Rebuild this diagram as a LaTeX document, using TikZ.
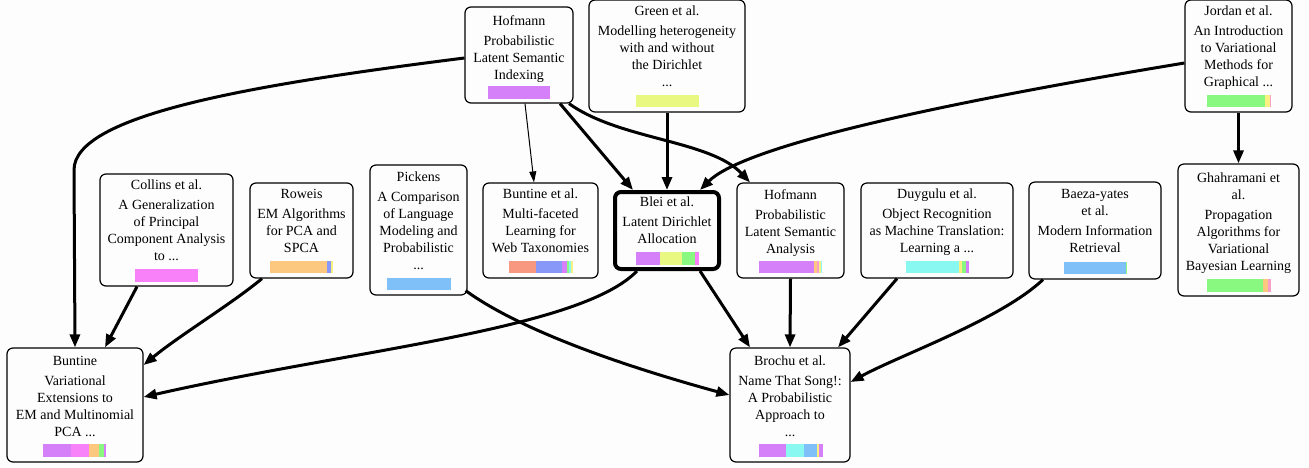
\documentclass[tikz,border=0pt]{standalone}
\usepackage{fontspec}
\setmainfont{Liberation Serif}
\usetikzlibrary{arrows.meta}
\definecolor{bg}{RGB}{252,253,252}
\definecolor{cviolet}{RGB}{213,128,248}
\definecolor{cpink}{RGB}{248,128,248}
\definecolor{cyg}{RGB}{232,248,128}
\definecolor{cgreen}{RGB}{136,248,128}
\definecolor{corange}{RGB}{252,200,128}
\definecolor{csalmon}{RGB}{248,152,128}
\definecolor{cperi}{RGB}{136,152,248}
\definecolor{cblue}{RGB}{128,192,248}
\definecolor{ccyan}{RGB}{136,248,240}
\definecolor{cyellow}{RGB}{248,240,128}
\definecolor{crose}{RGB}{248,160,200}
\newcommand{\pbox}[6][]{\node[paper,#1,minimum width={(#4-#2)*1pt},minimum height={(#5-#3)*1pt}] (#6) at ({(#2+#4)/2},{(#3+#5)/2}) {};}
\newcommand{\seg}[5]{\fill[#1] (#2,#3) rectangle (#4,#5);}
\begin{document}
\begin{tikzpicture}[x=1pt,y=-1pt,
  paper/.style={draw=black,fill=bg,rounded corners=6pt,line width=1.2pt,inner sep=0pt},
  txt/.style={anchor=north,align=center,inner sep=0pt,font=\fontsize{14}{17}\selectfont},
  link/.style={line width=3pt,-{Triangle[length=13pt,width=10pt]}},
  thinlink/.style={line width=1pt,-{Triangle[length=11pt,width=7pt]}}]
\useasboundingbox (0,0) rectangle (1309,467);
\fill[bg] (0,0) rectangle (1309,467);

% boxes
\pbox{465}{7}{573}{103}{hofI}
\pbox{589}{0}{745}{112}{green}
\pbox{1185}{0}{1292}{112}{jordan}
\pbox{1178}{164}{1299}{296}{ghah}
\pbox{100}{174}{233}{286}{collins}
\pbox{250}{183}{353}{278}{roweis}
\pbox{370}{165}{467}{295}{pickens}
\pbox{483}{183}{598}{278}{bunet}
\pbox[line width=4pt]{615}{192}{719}{269}{blei}
\pbox{737}{183}{844}{278}{plsa}
\pbox{861}{183}{1013}{278}{duygulu}
\pbox{1029}{182}{1161}{279}{baeza}
\pbox{7}{348}{143}{462}{bunvar}
\pbox{730}{348}{850}{462}{brochu}

% texts
\node[txt] at (519,15) {Hofmann\\[3pt]Probabilistic\\Latent Semantic\\Indexing};
\node[txt] at (667,6) {Green et al.\\[3pt]Modelling heterogeneity\\with and without\\the Dirichlet\\...};
\node[txt] at (1238.5,6) {Jordan et al.\\[3pt]An Introduction\\to Variational\\Methods for\\Graphical ...};
\node[txt] at (1238.5,173) {Ghahramani et\\al.\\[3pt]Propagation\\Algorithms for\\Variational\\Bayesian Learning};
\node[txt] at (166.5,180) {Collins et al.\\[3pt]A Generalization\\of Principal\\Component Analysis\\to ...};
\node[txt] at (301.5,189) {Roweis\\[3pt]EM Algorithms\\for PCA and\\SPCA};
\node[txt] at (418.5,172) {Pickens\\[3pt]A Comparison\\of Language\\Modeling and\\Probabilistic\\...};
\node[txt] at (540.5,189) {Buntine et al.\\[3pt]Multi-faceted\\Learning for\\Web Taxonomies};
\node[txt] at (667,197) {Blei et al.\\[3pt]Latent Dirichlet\\Allocation};
\node[txt] at (790.5,189) {Hofmann\\[3pt]Probabilistic\\Latent Semantic\\Analysis};
\node[txt] at (937,189) {Duygulu et al.\\[3pt]Object Recognition\\as Machine Translation:\\Learning a ...};
\node[txt] at (1095,189) {Baeza-yates\\et al.\\[3pt]Modern Information\\Retrieval};
\node[txt] at (75,356) {Buntine\\[3pt]Variational\\Extensions to\\EM and Multinomial\\PCA ...};
\node[txt] at (790,356) {Brochu et al.\\[3pt]Name That Song!:\\A Probabilistic\\Approach to\\...};

% bars
\seg{cviolet}{488}{86}{550}{99}
\seg{cyg}{636}{95}{699}{107}
\seg{cgreen}{1207}{95}{1265}{107}\seg{cyellow}{1265}{95}{1270}{107}\seg{crose}{1270}{95}{1271}{107}
\seg{cgreen}{1207}{279}{1263}{292}\seg{corange}{1263}{279}{1268}{292}\seg{crose}{1268}{279}{1271}{292}
\seg{cpink}{135}{269}{198}{282}
\seg{corange}{270}{261}{327}{273}\seg{cperi}{327}{261}{331}{273}\seg{cyellow}{331}{261}{333}{273}
\seg{cblue}{387}{278}{451}{290}
\seg{csalmon}{509}{261}{536}{273}\seg{cperi}{536}{261}{562}{273}\seg{cviolet}{562}{261}{567}{273}\seg{cgreen}{567}{261}{569}{273}\seg{ccyan}{569}{261}{571}{273}\seg{cyellow}{571}{261}{573}{273}
\seg{cviolet}{636}{252}{660}{265}\seg{cyg}{660}{252}{682}{265}\seg{cgreen}{682}{252}{695}{265}\seg{cpink}{695}{252}{699}{265}
\seg{cviolet}{759}{261}{814}{273}\seg{corange}{814}{261}{817}{273}\seg{crose}{817}{261}{819}{273}\seg{cyellow}{819}{261}{821}{273}\seg{ccyan}{821}{261}{822}{273}
\seg{ccyan}{906}{261}{959}{273}\seg{cyellow}{959}{261}{962}{273}\seg{cgreen}{962}{261}{966}{273}\seg{cviolet}{966}{261}{969}{273}
\seg{cblue}{1064}{262}{1126}{274}\seg{cgreen}{1126}{262}{1127}{274}
\seg{cviolet}{43}{444}{71}{457}\seg{cpink}{71}{444}{89}{457}\seg{corange}{89}{444}{99}{457}\seg{cgreen}{99}{444}{104}{457}\seg{cviolet}{104}{444}{106}{457}
\seg{cviolet}{759}{444}{786}{457}\seg{ccyan}{786}{444}{804}{457}\seg{cblue}{804}{444}{817}{457}\seg{cyellow}{817}{444}{819}{457}\seg{cviolet}{819}{444}{823}{457}

% connectors
\draw[link] ([yshift=-3pt]hofI.west) .. controls (250,85) and (74,115) .. (74,170) -- (bunvar.north);
\draw[thinlink] ([xshift=6pt]hofI.south) -- ([xshift=-6.5pt]bunet.north);
\draw[link] ([xshift=41pt]hofI.south) -- ([xshift=-34pt]blei.north);
\draw[link] ([xshift=50pt]hofI.south) .. controls (620,140) and (710,140) .. ([xshift=-40.5pt]plsa.north);
\draw[link] (green.south) -- (blei.north);
\draw[link] ([yshift=-7pt]jordan.west) .. controls (900,110) and (740,150) .. ([xshift=33pt]blei.north);
\draw[link] (jordan.south) -- (ghah.north);
\draw[link] ([xshift=-29.5pt]collins.south) -- ([xshift=30pt]bunvar.north);
\draw[link] ([xshift=-39.5pt]roweis.south) .. controls (230,305) and (180,335) .. ([yshift=40pt]bunvar.east);
\draw[link] ([xshift=-30pt]blei.south) .. controls (580,330) and (350,350) .. ([yshift=8pt]bunvar.east);
\draw[link] ([xshift=-2pt,yshift=5pt]pickens.south east) .. controls (520,330) and (620,365) .. ([yshift=10pt]brochu.west);
\draw[link] ([xshift=33pt]blei.south) -- ([xshift=-40pt]brochu.north);
\draw[link] (plsa.south) -- (brochu.north);
\draw[link] ([xshift=-40pt]duygulu.south) -- ([xshift=48pt]brochu.north);
\draw[link] ([xshift=-52pt]baeza.south) .. controls (1000,320) and (900,355) .. ([yshift=23pt]brochu.east);
\end{tikzpicture}
\end{document}
